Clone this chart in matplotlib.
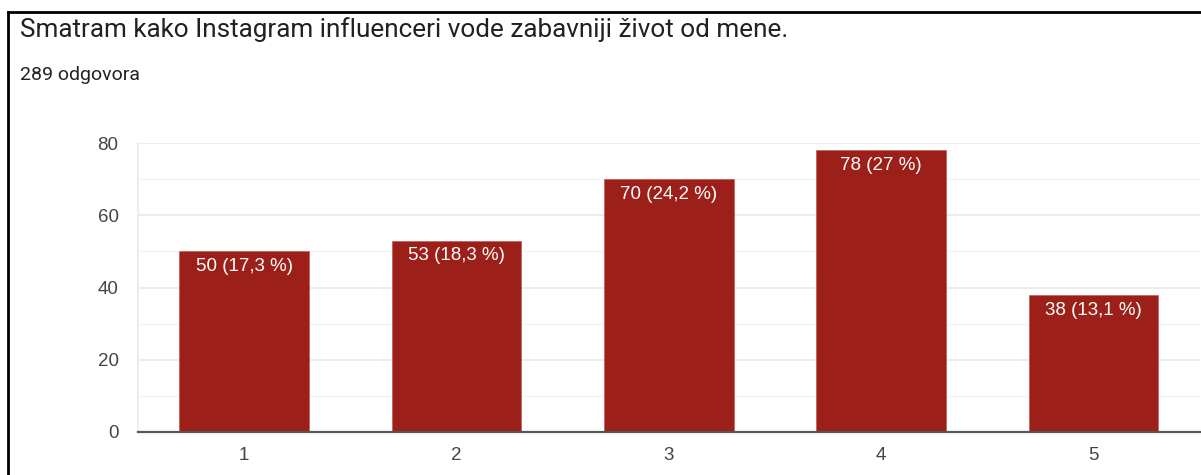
import matplotlib.pyplot as plt
from matplotlib import lines

categories = ["1", "2", "3", "4", "5"]
counts = [50, 53, 70, 78, 38]
pct_labels = ["17,3", "18,3", "24,2", "27", "13,1"]
y_ticks = [0, 20, 40, 60, 80]

BAR = "#9c2019"
TEXT = "#444444"
GRID = "#ebebeb"
LABEL_FONT = ["Liberation Sans", "DejaVu Sans"]

plt.rcParams["font.family"] = ["Roboto", "DejaVu Sans"]

fig = plt.figure(figsize=(12.01, 4.75), dpi=100)
fig.set_facecolor("white")
ax = fig.add_axes([138 / 1201, 1 - 432 / 475, (1199.5 - 138) / 1201, (432 - 143) / 475])

x = list(range(len(categories)))
ax.bar(x, counts, width=0.61, color=BAR, edgecolor="#c9625c", linewidth=0.6, zorder=3)

for xi, c, p in zip(x, counts, pct_labels):
    ax.annotate(f"{c} ({p} %)", (xi, c), xytext=(0, -5), textcoords="offset points",
                ha="center", va="top", color="white", fontsize=13.5,
                family=LABEL_FONT, zorder=4)

ax.set_xlim(-0.5, len(categories) - 0.5)
ax.set_ylim(0, 80)
ax.set_yticks(y_ticks)
ax.set_yticks([10, 30, 50, 70], minor=True)
ax.set_xticks(x)
ax.set_xticklabels(categories)
ax.tick_params(axis="y", which="both", length=0, pad=14, labelsize=13.5, labelcolor=TEXT)
ax.tick_params(axis="x", length=0, pad=11, labelsize=13.5, labelcolor=TEXT)
for lab in ax.get_xticklabels() + ax.get_yticklabels():
    lab.set_family(LABEL_FONT)

ax.set_axisbelow(True)
ax.grid(axis="y", which="major", color=GRID, lw=1.3)
ax.grid(axis="y", which="minor", color="#f3f3f3", lw=1.0)
for s in ["top", "right"]:
    ax.spines[s].set_visible(False)
ax.spines["left"].set_color(GRID)
ax.spines["left"].set_lw(1.2)
ax.spines["bottom"].set_color("#555555")
ax.spines["bottom"].set_lw(1.6)
ax.spines["bottom"].set_zorder(5)

fig.text(20 / 1201, 1 - 30 / 475, "Smatram kako Instagram influenceri vode zabavniji život od mene.",
         fontsize=18.8, color="#202124", va="center", ha="left")
fig.text(20 / 1201, 1 - 75 / 475, "289 odgovora", fontsize=14, color="#202124",
         va="center", ha="left")

# frame from the screenshot
fig.add_artist(lines.Line2D([8 / 1201, 1], [1 - 12 / 475, 1 - 12 / 475], lw=2, color="black"))
fig.add_artist(lines.Line2D([8 / 1201, 8 / 1201], [0, 1 - 12 / 475], lw=2, color="black"))

fig.savefig("out.png", dpi=100)
